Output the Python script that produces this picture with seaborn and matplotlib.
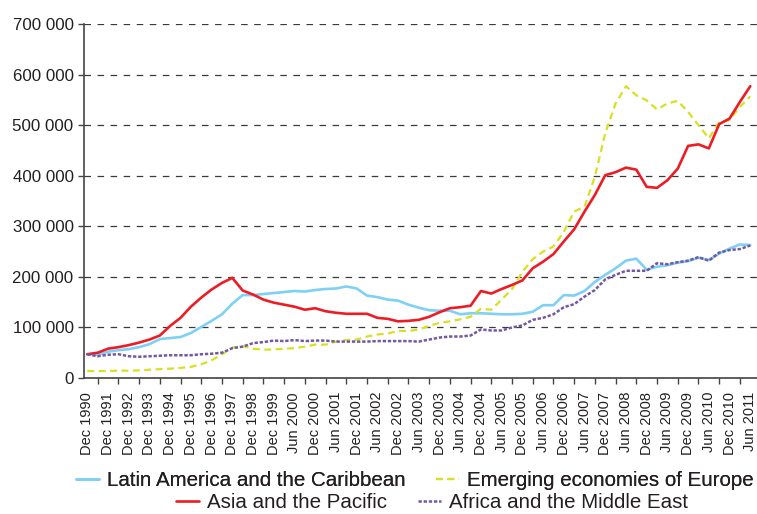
import numpy as np
import pandas as pd
import seaborn as sns
import matplotlib.pyplot as plt
from matplotlib.ticker import FixedLocator, FuncFormatter
from matplotlib.lines import Line2D

# categories: half-yearly to Dec 1999, quarterly from Mar 2000 to Jun 2011
years_half = [(m, y) for y in range(1991, 2000) for m in ('Jun', 'Dec')]
years_q = [(m, y) for y in range(2000, 2012) for m in ('Mar', 'Jun', 'Sep', 'Dec')]
periods = ['Dec 1990'] + [f'{m} {y}' for m, y in years_half] + [f'{m} {y}' for m, y in years_q][:46]

latin = [47000, 46000, 52000, 55000, 57000, 61000, 67000, 77000, 79000, 81000,
         89000, 101000, 113000, 126000, 147000, 164000, 164000, 166000, 168000, 170000,
         172000, 171000, 174000, 176000, 177000, 181000, 177000, 163000, 160000, 155000,
         153000, 145000, 139000, 134000, 133000, 133000, 126000, 128000, 128000, 127000,
         126000, 126000, 127000, 131000, 144000, 144000, 164000, 163000, 172000, 190000,
         204000, 217000, 232000, 236000, 214000, 220000, 223000, 228000, 231000, 238000,
         233000, 246000, 256000, 264000, 263000]

europe = [14000, 13500, 14000, 14500, 14500, 15000, 16500, 17500, 18500, 20000,
          22000, 27000, 35000, 47000, 60000, 63000, 58000, 56000, 56500, 58000,
          59000, 62000, 66000, 66000, 72000, 75000, 76000, 82000, 86000, 88000,
          93000, 93000, 96000, 103000, 109000, 112000, 116000, 121000, 137000, 135000,
          155000, 176000, 210000, 235000, 250000, 260000, 289000, 329000, 339000, 398000,
          484000, 543000, 577000, 559000, 549000, 531000, 543000, 548000, 526000, 500000,
          474000, 506000, 510000, 536000, 557000]

asia = [47000, 50000, 58000, 61000, 65000, 70000, 76000, 84000, 103000, 119000,
        141000, 159000, 175000, 188000, 198000, 173000, 165000, 155000, 149000, 145000,
        141000, 135000, 138000, 132000, 129000, 127000, 127000, 127000, 119000, 117000,
        112000, 113000, 115000, 121000, 130000, 138000, 140000, 143000, 172000, 167000,
        176000, 184000, 193000, 217000, 230000, 245000, 270000, 294000, 329000, 362000,
        401000, 407000, 416000, 412000, 378000, 376000, 391000, 414000, 459000, 462000,
        454000, 502000, 513000, 546000, 577000]

africa = [47000, 43000, 46000, 47000, 43000, 42000, 43000, 44000, 45000, 45000,
          45000, 47000, 48000, 50000, 59000, 62000, 69000, 71000, 74000, 73000,
          75000, 73000, 74000, 74000, 72000, 72000, 72000, 72000, 73000, 73000,
          73000, 73000, 72000, 76000, 80000, 82000, 82000, 84000, 96000, 94000,
          94000, 100000, 104000, 115000, 119000, 126000, 140000, 146000, 161000, 174000,
          195000, 204000, 212000, 212000, 212000, 227000, 225000, 229000, 232000, 239000,
          232000, 248000, 253000, 255000, 262000]

names = ['Latin America and the Caribbean', 'Emerging economies of Europe',
         'Asia and the Pacific', 'Africa and the Middle East']

df = pd.DataFrame({'period': periods, 'pos': np.arange(len(periods)),
                   names[0]: latin, names[1]: europe, names[2]: asia, names[3]: africa})

sns.set_style('white')
plt.rcParams['font.family'] = ['Liberation Sans', 'DejaVu Sans']
plt.rcParams['lines.scale_dashes'] = False
txt = '#231f20'

fig = plt.figure(figsize=(7.57, 5.14), dpi=100)
ax = fig.add_axes([84 / 757, 1 - 378 / 514, (757 - 84) / 757, (378 - 24) / 514])

styles = [
    dict(color='#7fd0f5', lw=1.9),
    dict(color='#d9e021', lw=1.6, dashes=(5, 3.2)),
    dict(color='#ed1c24', lw=1.9),
    dict(color='#7358a3', lw=1.8, dashes=(2.4, 1.3)),
]
for name, st in zip(names, styles):
    sns.lineplot(data=df, x='pos', y=name, ax=ax, legend=False, **st)

ax.set_xlim(-0.32, 64.65)
ax.set_ylim(0, 700000)
ax.set_yticks(range(0, 700001, 100000))
ax.yaxis.set_major_formatter(FuncFormatter(lambda v, p: f'{int(v):,}'.replace(',', ' ')))
ax.yaxis.grid(True, color='#3a3a3a', lw=0.9, linestyle=(0, (4.7, 4.7)))
ax.xaxis.grid(False)
ax.set_xlabel('')
ax.set_ylabel('')

lab_pos = list(range(0, 65, 2))
ax.set_xticks(lab_pos)
ax.set_xticklabels([periods[i] for i in lab_pos], rotation=90, fontsize=10.5, color=txt)
ax.xaxis.set_minor_locator(FixedLocator(list(range(1, 65, 2))))
ax.tick_params(axis='x', which='major', length=0, pad=10)
ax.tick_params(axis='x', which='minor', length=4, width=1, color='#444444', direction='out', bottom=True)
ax.tick_params(axis='y', which='major', length=4, width=1, color='#444444', direction='out',
               left=True, labelsize=12.2, labelcolor=txt, pad=3.5)

for s in ['top', 'right']:
    ax.spines[s].set_visible(False)
for s in ['left', 'bottom']:
    ax.spines[s].set_color('#444444')
    ax.spines[s].set_linewidth(1.2)

handles = [Line2D([], [], **st) for st in styles]
leg_kw = dict(ncol=2, frameon=False, loc='center', fontsize=14.8, handlelength=1.1,
              handletextpad=0.4, columnspacing=1.5, borderpad=0, labelcolor=txt)
l1 = fig.legend(handles[:2], names[:2], bbox_to_anchor=(415 / 757, 1 - 481 / 514), **leg_kw)
fig.add_artist(l1)
fig.legend(handles[2:], names[2:], bbox_to_anchor=(432 / 757, 1 - 503 / 514), **leg_kw)

fig.savefig('out.png', dpi=100)
